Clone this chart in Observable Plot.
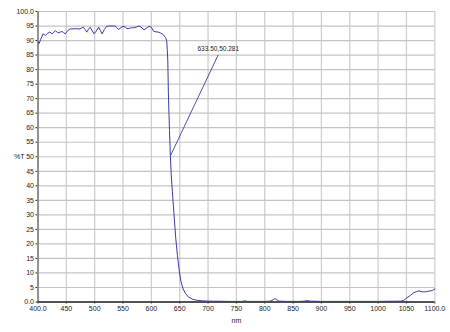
<!DOCTYPE html>
<html><head><meta charset="utf-8">
<script src="https://cdn.jsdelivr.net/npm/d3@7"></script>
<script src="https://cdn.jsdelivr.net/npm/@observablehq/plot@0.6"></script>
<style>
html,body{margin:0;padding:0;background:#fff;}
svg{display:block;}
</style>
</head><body>
<div id="chart"></div>
<script>
// wavelength (nm)
const wavelength = [
  400,402,405,409,413,417,421,425,428,431,434,437,440,442,445,448,451,454,457,460,
  465,470,474,477,480,483,486,489,492,495,499,503,507,510,513,517,521,526,531,536,
  539,542,546,550,554,557,561,565,569,573,578,582,587,591,596,600,604,608,613,616,
  619,622,625,627,628,629,630,631,632,633.5,635,637,640,643,646,649,652,656,660,665,
  672,680,690,700,720,740,760,766,769,772,780,800,810,815,818,821,825,840,860,870,
  875,880,900,950,1000,1040,1045,1051,1057,1063,1068,1072,1078,1084,1088,1092,1096,1100
];
// transmission (%T)
const transmission = [
  89.5,89.0,90.5,92.3,91.8,92.5,92.9,92.3,93.0,93.4,92.8,92.6,93.0,93.1,92.8,92.3,93.0,93.7,94.0,94.0,
  94.1,94.0,94.0,94.3,94.6,93.8,92.9,93.9,94.6,93.6,92.3,93.3,94.6,93.5,92.3,93.8,94.9,95.0,95.0,95.0,
  94.5,93.8,94.4,94.9,94.6,94.1,94.2,94.4,94.4,94.6,95.0,94.6,93.7,94.2,94.9,94.6,93.2,93.0,92.9,92.6,
  92.3,91.8,91.0,90.0,87.0,83.0,72.0,65.0,59.0,50.281,44.0,38.0,30.0,22.0,16.0,11.0,7.2,4.5,3.0,1.8,
  1.0,0.6,0.4,0.3,0.25,0.2,0.2,0.4,0.2,0.2,0.2,0.2,0.3,0.8,1.2,0.8,0.3,0.2,0.2,0.3,
  0.5,0.3,0.2,0.2,0.2,0.3,0.5,1.5,2.3,3.2,3.6,3.8,3.5,3.5,3.7,3.8,4.0,4.5
];
const xTicks = [400,450,500,550,600,650,700,750,800,850,900,950,1000,1050,1100];
const yTicks = [0,5,10,15,20,25,30,35,40,45,50,55,60,65,70,75,80,85,90,95,100];
const marker = {nm: 633.5, t: 50.281, label: "633.50,50.281"};
const labelAt = {nm: 718, t: 86.3};

const data = wavelength.map((w, i) => ({nm: w, t: transmission[i]}));
const xFmt = d => (d === 400 || d === 1100) ? d.toFixed(1) : String(d);
const yFmt = d => (d === 0 || d === 100) ? d.toFixed(1) : String(d);

const chart = Plot.plot({
  width: 450,
  height: 332,
  marginLeft: 37.5,
  marginRight: 15.7,
  marginTop: 11,
  marginBottom: 30.5,
  style: {fontFamily: "'Liberation Sans Narrow','Arial Narrow','Liberation Sans',Arial,sans-serif", fontSize: "7px", color: "#222", background: "#fff"},
  x: {domain: [400, 1100], ticks: xTicks, tickFormat: xFmt, tickSize: 2, tickPadding: 2, label: null},
  y: {domain: [0, 100], ticks: yTicks, tickFormat: yFmt, tickSize: 2, tickPadding: 2, label: null},
  marks: [
    Plot.ruleX(xTicks, {stroke: "#cfcfcf", strokeWidth: 1.3}),
    Plot.ruleY(yTicks, {stroke: "#c4c4c4", strokeWidth: 1.2}),
    Plot.ruleX([400], {stroke: "#777", strokeWidth: 1.5}),
    Plot.ruleY([0], {stroke: "#222", strokeWidth: 1.6}),
    Plot.line(data, {x: "nm", y: "t", stroke: "#3b3ba6", strokeWidth: 1}),
    Plot.link([marker], {x1: () => marker.nm, y1: () => marker.t, x2: () => labelAt.nm, y2: () => labelAt.t - 1.2, stroke: "#3b3ba6", strokeWidth: 0.9}),
    Plot.text([marker], {x: () => labelAt.nm, y: () => labelAt.t, text: "label", fontSize: 6.5, fill: "#222", textAnchor: "middle", dy: -2}),
    Plot.text(["%T"], {frameAnchor: "left", dx: -24, text: d => d, fontSize: 7, fill: "#222"}),
    Plot.text(["nm"], {frameAnchor: "bottom", dy: 21, text: d => d, fontSize: 7, fill: "#222"})
  ]
});
document.getElementById("chart").appendChild(chart);
</script>
</body></html>
